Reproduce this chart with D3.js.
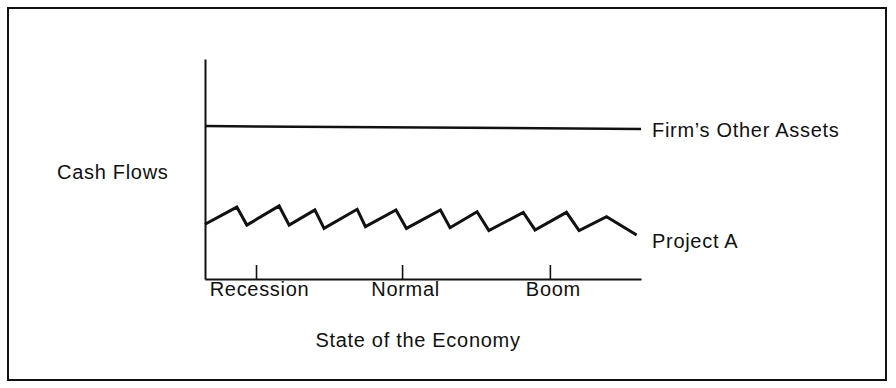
<!DOCTYPE html>
<html>
<head>
<meta charset="utf-8">
<script src="https://cdn.jsdelivr.net/npm/d3@7"></script>
<style>
  html, body { margin: 0; padding: 0; background: #fff; }
  svg { display: block; }
  text { font-family: "Liberation Sans", Arial, Helvetica, sans-serif; fill: #111; }
</style>
</head>
<body>
<svg id="chart" width="896" height="388"></svg>
<script>
// ---- data ----
const projectX = [0, 7.3, 9.6, 17.0, 19.3, 25.2, 27.3, 34.9, 36.8, 43.8, 46.2, 54.0, 56.2, 62.4, 65.1, 73.0, 75.7, 82.9, 85.8, 92.1, 99.0];
const projectY = [24.9, 32.7, 24.5, 33.2, 24.5, 31.4, 23.0, 31.7, 23.8, 31.4, 23.0, 31.4, 23.3, 30.6, 22.0, 30.3, 22.3, 30.3, 22.0, 28.3, 20.0];
const otherAssetsX = [0, 100];
const otherAssetsY = [69.5, 68.2];
const tickValues = [11.7, 45.2, 79.1];
const tickLabels = ["Recession", "Normal", "Boom"];
const seriesLabels = ["Firm\u2019s Other Assets", "Project A"];
const yAxisTitle = "Cash Flows";
const xAxisTitle = "State of the Economy";

// ---- layout ----
const svg = d3.select("#chart");
const fs = 20;
const ls = "0.7px";

svg.append("rect")
  .attr("x", 8).attr("y", 8).attr("width", 878).attr("height", 372)
  .attr("fill", "none").attr("stroke", "#111").attr("stroke-width", 2);

const x = d3.scaleLinear().domain([0, 100]).range([205, 641]);
const y = d3.scaleLinear().domain([0, 100]).range([279, 59]);

// x axis with upward ticks
const xAxis = d3.axisBottom(x)
  .tickValues(tickValues)
  .tickFormat((d, i) => tickLabels[i])
  .tickSizeInner(-14)
  .tickSizeOuter(0)
  .tickPadding(3);

const gx = svg.append("g").attr("transform", `translate(0,${y(0)})`).call(xAxis);
gx.select(".domain").attr("stroke", "#111").attr("stroke-width", 2);
gx.selectAll(".tick line").attr("stroke", "#111").attr("stroke-width", 1.6);
gx.selectAll(".tick text")
  .attr("font-size", fs).attr("letter-spacing", ls)
  .attr("font-family", "Liberation Sans, Arial, sans-serif")
  .attr("fill", "#111").attr("dx", 3);

// y axis (line only)
const yAxis = d3.axisLeft(y).tickValues([]).tickSizeOuter(0);
const gy = svg.append("g").attr("transform", `translate(${x(0)},0)`).call(yAxis);
gy.select(".domain").attr("stroke", "#111").attr("stroke-width", 2);

// series
const line = d3.line().x(d => x(d[0])).y(d => y(d[1]));

svg.append("path")
  .datum(otherAssetsX.map((v, i) => [v, otherAssetsY[i]]))
  .attr("d", line).attr("fill", "none")
  .attr("stroke", "#111").attr("stroke-width", 2.5);

svg.append("path")
  .datum(projectX.map((v, i) => [v, projectY[i]]))
  .attr("d", line).attr("fill", "none")
  .attr("stroke", "#111").attr("stroke-width", 3)
  .attr("stroke-linejoin", "miter");

// labels
svg.append("text").attr("x", 652).attr("y", 137)
  .attr("font-size", fs).attr("letter-spacing", ls).text(seriesLabels[0]);
svg.append("text").attr("x", 652).attr("y", 248)
  .attr("font-size", fs).attr("letter-spacing", ls).text(seriesLabels[1]);
svg.append("text").attr("x", 57).attr("y", 179)
  .attr("font-size", fs).attr("letter-spacing", ls).text(yAxisTitle);
svg.append("text").attr("x", 418).attr("y", 347).attr("text-anchor", "middle")
  .attr("font-size", fs).attr("letter-spacing", ls).text(xAxisTitle);
</script>
</body>
</html>
